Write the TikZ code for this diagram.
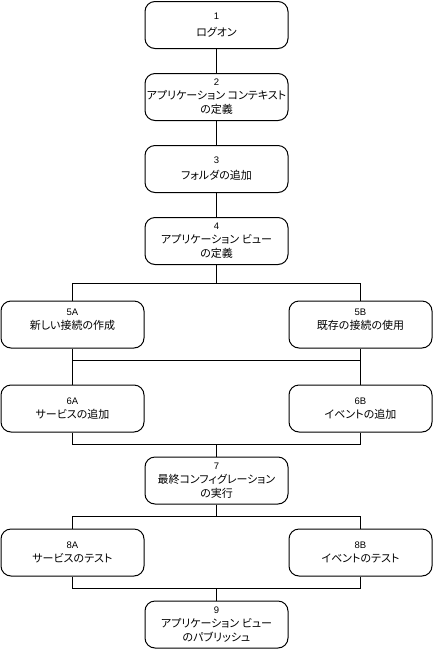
\documentclass[tikz,border=0pt]{standalone}
\usepackage{fontspec}
\setmainfont{Liberation Sans}
\newfontfamily\jpfont[RawFeature=+palt]{Noto Sans CJK JP}
\usetikzlibrary{positioning}
\newcommand\stepno[1]{{\rmfamily\fontsize{9.5pt}{14pt}\selectfont #1}}
\definecolor{ink}{RGB}{0,0,0}
\tikzset{
  stepbox/.style={draw=ink,line width=1pt,rounded corners=10pt,fill=white,
    minimum width=143pt,minimum height=47pt,inner sep=0pt,align=center,
    font=\jpfont\fontsize{11pt}{14pt}\selectfont},
  link/.style={draw=ink,line width=1pt},
}
\begin{document}
\begin{tikzpicture}[x=1pt,y=-1pt]
    \useasboundingbox (0,0) rectangle (433,649);
    % main column
    \node[stepbox] (s1) at (216.5,25) {\stepno{1}\\[3pt]ログオン};
    \node[stepbox] (s2) at (216.5,97) {\stepno{2}\\アプリケーション コンテキスト\\の定義};
    \node[stepbox] (s3) at (216.5,169) {\stepno{3}\\[2pt]フォルダの追加};
    \node[stepbox] (s4) at (216.5,241) {\stepno{4}\\アプリケーション ビュー\\の定義};
    % branches
    \node[stepbox,text depth=11pt] (s5a) at (72.5,324.5) {\stepno{5A}\\新しい接続の作成};
    \node[stepbox,text depth=11pt] (s5b) at (360.5,324.5) {\stepno{5B}\\既存の接続の使用};
    \node[stepbox] (s6a) at (72.5,408.5) {\stepno{6A}\\サービスの追加};
    \node[stepbox] (s6b) at (360.5,408.5) {\stepno{6B}\\イベントの追加};
    \node[stepbox] (s7) at (216.5,480.5) {\stepno{7}\\最終コンフィグレーション\\の実行};
    \node[stepbox] (s8a) at (72.5,552.5) {\stepno{8A}\\サービスのテスト};
    \node[stepbox] (s8b) at (360.5,552.5) {\stepno{8B}\\イベントのテスト};
    \node[stepbox] (s9) at (216.5,624.5) {\stepno{9}\\アプリケーション ビュー\\のパブリッシュ};
    \draw[link] (s1) -- (s2); \draw[link] (s2) -- (s3); \draw[link] (s3) -- (s4);
    \draw[link] (s4.south) -- ++(0,18) -| (s5a.north);
    \draw[link] (s4.south) -- ++(0,18) -| (s5b.north);
    \draw[link] (s5a.south) -- ++(0,12) -| (s6b.north);
    \draw[link] (s5b.south) -- ++(0,12) -| (s6a.north);
    \draw[link] (s6a.south) -- ++(0,12) -| (s7.north);
    \draw[link] (s6b.south) -- ++(0,12) -| (s7.north);
    \draw[link] (s7.south) -- ++(0,12) -| (s8a.north);
    \draw[link] (s7.south) -- ++(0,12) -| (s8b.north);
    \draw[link] (s8a.south) -- ++(0,12) -| (s9.north);
    \draw[link] (s8b.south) -- ++(0,12) -| (s9.north);
\end{tikzpicture}
\end{document}
